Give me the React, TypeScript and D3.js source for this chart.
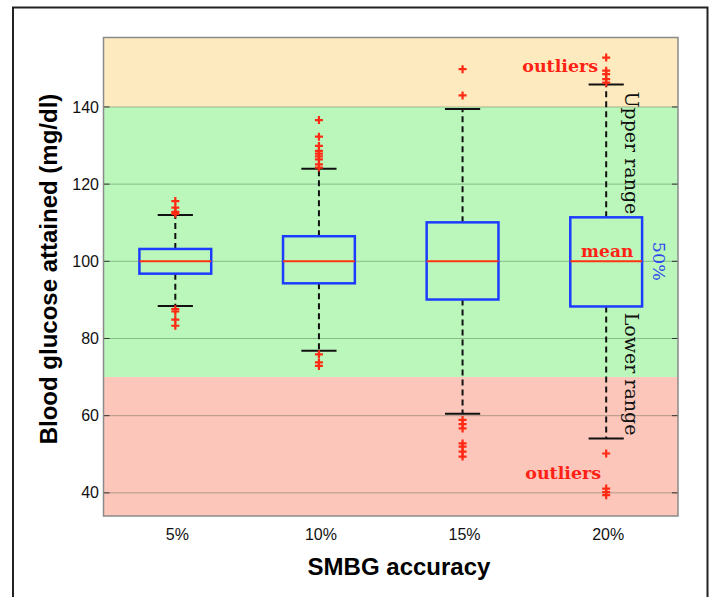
import React, { useEffect, useRef } from 'react';
import * as d3 from 'd3';

const categories = ['5%', '10%', '15%', '20%'];
const medians = [100, 100, 100, 100];
const q1 = [96.8, 94.3, 90.1, 88.3];
const q3 = [103.2, 106.5, 110.1, 111.4];
const whiskerLow = [88.4, 76.8, 60.5, 54.1];
const whiskerHigh = [112, 124, 139.5, 145.8];
const outliers = [
    [115.6, 113.9, 112.8, 112.3, 87.6, 87.0, 84.9, 83.3],
    [136.6, 132.3, 129.9, 128.6, 127.9, 127.2, 126.4, 125.1, 124.3, 75.9, 73.8, 72.9],
    [149.8, 143, 58.9, 57.8, 56.7, 52.8, 52.0, 50.7, 49.4],
    [152.8, 149.4, 148.5, 147.2, 146.3, 50.2, 41.1, 40.2, 39.4],
];
const yTicks = [40, 60, 80, 100, 120, 140];
const zoneLimits = [[140, 158], [70, 140], [34, 70]];
const zoneColors = ['#fdebbf', '#bbf7bb', '#fcc6bb'];

const App = () => {
    const svgRef = useRef<SVGSVGElement>(null);

    useEffect(() => {
        const svg = d3.select(svgRef.current);
        svg.selectAll('*').remove();

        const height = 597;
        const plot = { left: 103.5, right: 678, top: 37.5, bottom: 516 };
        const sans = 'Liberation Sans, Arial, Helvetica, sans-serif';
        const serif = 'DejaVu Serif, serif';

        const x = d3.scaleBand().domain(categories).range([plot.left, plot.right]).padding(0);
        const y = d3.scaleLinear().domain([34, 158]).range([plot.bottom, plot.top]);
        const cx = (c: string) => (x(c) as number) + x.bandwidth() / 2;
        const boxW = x.bandwidth() * 0.5;
        const capW = x.bandwidth() * 0.245;

        // outer frame (no bottom edge)
        svg.append('path')
            .attr('d', `M13,${height} V7.5 H707.5 V${height}`)
            .attr('fill', 'none')
            .attr('stroke', '#222')
            .attr('stroke-width', 2);

        // coloured zones
        svg.append('g').selectAll('rect')
            .data(zoneLimits)
            .join('rect')
            .attr('x', plot.left)
            .attr('width', plot.right - plot.left)
            .attr('y', d => y(d[1]))
            .attr('height', d => y(d[0]) - y(d[1]))
            .attr('fill', (d, i) => zoneColors[i]);

        // grid + ticks
        const grid = svg.append('g');
        grid.selectAll('line.grid')
            .data(yTicks)
            .join('line')
            .attr('class', 'grid')
            .attr('x1', plot.left).attr('x2', plot.right)
            .attr('y1', d => y(d)).attr('y2', d => y(d))
            .attr('stroke', '#2a4a2a')
            .attr('stroke-opacity', 0.35)
            .attr('stroke-width', 1);
        grid.selectAll('line.tl')
            .data(yTicks)
            .join('line')
            .attr('class', 'tl')
            .attr('x1', plot.left).attr('x2', plot.left + 6)
            .attr('y1', d => y(d)).attr('y2', d => y(d))
            .attr('stroke', '#333').attr('stroke-width', 1);
        grid.selectAll('line.tr')
            .data(yTicks)
            .join('line')
            .attr('class', 'tr')
            .attr('x1', plot.right - 6).attr('x2', plot.right)
            .attr('y1', d => y(d)).attr('y2', d => y(d))
            .attr('stroke', '#333').attr('stroke-width', 1);

        svg.append('rect')
            .attr('x', plot.left).attr('y', plot.top)
            .attr('width', plot.right - plot.left).attr('height', plot.bottom - plot.top)
            .attr('fill', 'none')
            .attr('stroke', '#8a8a8a')
            .attr('stroke-width', 1.5);

        // y tick labels
        svg.append('g').selectAll('text')
            .data(yTicks)
            .join('text')
            .attr('x', 99)
            .attr('y', d => y(d))
            .attr('dy', '0.35em')
            .attr('text-anchor', 'end')
            .attr('font-family', sans)
            .attr('font-size', 16)
            .attr('fill', '#111')
            .text(d => d);

        // x tick labels
        svg.append('g').selectAll('text')
            .data(categories)
            .join('text')
            .attr('x', d => cx(d) + 2)
            .attr('y', 540)
            .attr('text-anchor', 'middle')
            .attr('font-family', sans)
            .attr('font-size', 16)
            .attr('fill', '#111')
            .text(d => d);

        // boxes
        const boxes = svg.append('g').selectAll('g')
            .data(categories)
            .join('g');

        boxes.append('line')
            .attr('x1', d => cx(d)).attr('x2', d => cx(d))
            .attr('y1', (d, i) => y(q3[i])).attr('y2', (d, i) => y(whiskerHigh[i]))
            .attr('stroke', '#111').attr('stroke-width', 2).attr('stroke-dasharray', '6,4');
        boxes.append('line')
            .attr('x1', d => cx(d)).attr('x2', d => cx(d))
            .attr('y1', (d, i) => y(q1[i])).attr('y2', (d, i) => y(whiskerLow[i]))
            .attr('stroke', '#111').attr('stroke-width', 2).attr('stroke-dasharray', '6,4');
        boxes.append('line')
            .attr('x1', d => cx(d) - capW / 2).attr('x2', d => cx(d) + capW / 2)
            .attr('y1', (d, i) => y(whiskerHigh[i])).attr('y2', (d, i) => y(whiskerHigh[i]))
            .attr('stroke', '#111').attr('stroke-width', 2);
        boxes.append('line')
            .attr('x1', d => cx(d) - capW / 2).attr('x2', d => cx(d) + capW / 2)
            .attr('y1', (d, i) => y(whiskerLow[i])).attr('y2', (d, i) => y(whiskerLow[i]))
            .attr('stroke', '#111').attr('stroke-width', 2);
        boxes.append('rect')
            .attr('x', d => cx(d) - boxW / 2)
            .attr('width', boxW)
            .attr('y', (d, i) => y(q3[i]))
            .attr('height', (d, i) => y(q1[i]) - y(q3[i]))
            .attr('fill', 'none')
            .attr('stroke', '#1c3cff')
            .attr('stroke-width', 2.5);
        boxes.append('line')
            .attr('x1', d => cx(d) - boxW / 2).attr('x2', d => cx(d) + boxW / 2)
            .attr('y1', (d, i) => y(medians[i])).attr('y2', (d, i) => y(medians[i]))
            .attr('stroke', '#ff3414').attr('stroke-width', 2);

        // outliers as "+" markers
        const pts = categories.flatMap((c, i) => outliers[i].map(v => ({ c, v })));
        svg.append('g').selectAll('path')
            .data(pts)
            .join('path')
            .attr('d', d => {
                const px = cx(d.c), py = y(d.v);
                return `M${px - 4},${py} H${px + 4} M${px},${py - 4} V${py + 4}`;
            })
            .attr('stroke', '#ff2a14')
            .attr('stroke-width', 2.2)
            .attr('fill', 'none');

        // annotations
        const c20 = cx('20%');
        svg.append('text')
            .attr('x', c20 - 8).attr('y', y(149))
            .attr('text-anchor', 'end')
            .attr('font-family', serif).attr('font-weight', 'bold').attr('font-size', 17.5)
            .attr('fill', '#ff2214')
            .text('outliers');
        svg.append('text')
            .attr('x', c20 - 5).attr('y', y(43.6))
            .attr('text-anchor', 'end')
            .attr('font-family', serif).attr('font-weight', 'bold').attr('font-size', 17.5)
            .attr('fill', '#ff2214')
            .text('outliers');
        svg.append('text')
            .attr('x', c20 + 1).attr('y', y(100) - 4)
            .attr('text-anchor', 'middle')
            .attr('font-family', serif).attr('font-weight', 'bold').attr('font-size', 17)
            .attr('fill', '#ff2214')
            .text('mean');
        svg.append('text')
            .attr('transform', `translate(${c20 + 19},${y(144)}) rotate(90)`)
            .attr('font-family', serif).attr('font-size', 19)
            .attr('fill', '#111')
            .text('Upper range');
        svg.append('text')
            .attr('transform', `translate(${c20 + 19},${y(86.7)}) rotate(90)`)
            .attr('font-family', serif).attr('font-size', 19)
            .attr('fill', '#111')
            .text('Lower range');
        svg.append('text')
            .attr('transform', `translate(${c20 + 47},${y(100)}) rotate(90)`)
            .attr('text-anchor', 'middle')
            .attr('font-family', serif).attr('font-size', 17.5)
            .attr('fill', '#2a46ee')
            .text('50%');

        // axis titles
        svg.append('text')
            .attr('text-anchor', 'middle')
            .attr('x', 399)
            .attr('y', 575)
            .attr('font-family', sans).attr('font-weight', 'bold').attr('font-size', 24)
            .attr('fill', '#000')
            .text('SMBG accuracy');
        svg.append('text')
            .attr('text-anchor', 'middle')
            .attr('transform', `translate(57,269) rotate(-90)`)
            .attr('font-family', sans).attr('font-weight', 'bold').attr('font-size', 24)
            .attr('fill', '#000')
            .text('Blood glucose attained (mg/dl)');
    }, []);

    return (
        <>
            <style>{'body{margin:0}'}</style>
            <svg ref={svgRef} width="711" height="597" style={{ display: 'block', background: '#fff' }}></svg>
        </>
    );
};

export default App;
